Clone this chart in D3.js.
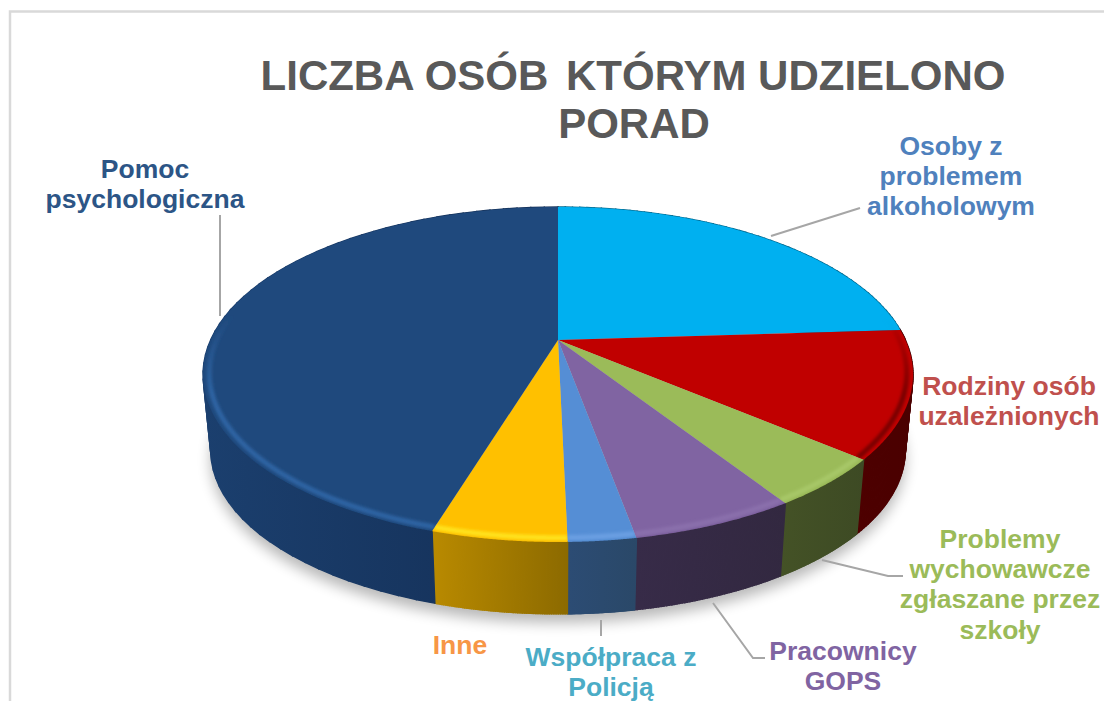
<!DOCTYPE html>
<html><head><meta charset="utf-8">
<script src="https://cdnjs.cloudflare.com/ajax/libs/d3/7.8.5/d3.min.js"></script>
<style>html,body{margin:0;padding:0;background:#fff;overflow:hidden}svg{display:block}text{font-family:"Liberation Sans",Arial,sans-serif;font-weight:bold;text-anchor:middle}</style>
</head><body><svg id="c" width="1104" height="701"></svg>
<script>
const categories=["Osoby z problemem alkoholowym","Rodziny osób uzależnionych","Problemy wychowawcze zgłaszane przez szkoły","Pracownicy GOPS","Współpraca z Policją","Inne","Pomoc psychologiczna"];
const values=[24.0,12.2,4.7,6.22,2.53,5.05,45.3];
const topColors=["#00b0f0","#c00000","#9bbb59","#8064a2","#558ed5","#ffc000","#1f497d"];
const rimColors=["#00a4e0","#7a0000","#a7c768","#8a6fac","#6a9fe2","#ffe21a","#2d64a3"];
const sideLeft=["#006a90","#4d0000","#445226","#372b48","#2c4c74","#b98a00","#1b3f6e"];
const sideRight=["#006a90","#4a0000","#3d4a24","#322840","#2a4868","#8c6a00","#142f56"];
const labelLines=[["Osoby z","problemem","alkoholowym"],["Rodziny osób","uzależnionych"],["Problemy","wychowawcze","zgłaszane przez","szkoły"],["Pracownicy","GOPS"],["Współpraca z","Policją"],["Inne"],["Pomoc","psychologiczna"]];
const labelColors=["#4f81bd","#c0504d","#9bbb59","#8064a2","#4bacc6","#f79646","#2c5586"];
const labelAnchors=[[951,155],[1009,395],[1000,548],[843,660],[611,666],[460,654],[145,178]];
const leaders=[[[771,236],[860,208]],[[822,560],[888,576],[903,576]],[[713,603],[753,658],[765,658]],[[601,620],[601,636]],[[220,215],[220,316]]];
const titleLine1=["LICZBA OSÓB ","KTÓRYM UDZIELONO"];
const titleLine2="PORAD";

const svg=d3.select("#c");
const defs=svg.append("defs");
const cx=558,y0=340,p=0.206,a=347.4,b=160.4,depth=76;
function proj(t,r=1){const x=r*Math.sin(t),y=-r*Math.cos(t),w=1-p*y;return [cx+a*x/w,y0+b*y/w];}
function low(t){const q=proj(t);return [cx+(q[0]-cx)*0.978,q[1]+depth+(375-q[1])*0.025];}
const arcs=d3.pie().sort(null).value(d=>d)(values);
const samples=(s,e,n=80)=>d3.range(n+1).map(i=>s+(e-s)*i/n);
const line=d3.line();
const slicePath=d=>line([[cx,y0],...samples(d.startAngle,d.endAngle).map(t=>proj(t))])+"Z";

const f1=defs.append("filter").attr("id","sh").attr("x","-20%").attr("y","-20%").attr("width","140%").attr("height","140%");
f1.append("feGaussianBlur").attr("stdDeviation",7);
const f2=defs.append("filter").attr("id","bl").attr("filterUnits","userSpaceOnUse").attr("x",0).attr("y",0).attr("width",1104).attr("height",701);
f2.append("feGaussianBlur").attr("stdDeviation",1.8);

// frame
svg.append("path").attr("d",line([[10,701],[10,11.5],[1104,11.5]])).attr("fill","none").attr("stroke","#d9d9d9").attr("stroke-width",2.5);

// drop shadow
const all=samples(0,2*Math.PI,200);
svg.append("path").attr("d",line(all.map(t=>{const q=low(t);return [q[0],q[1]+9];}))+"Z").attr("fill","#000").attr("opacity",0.28).attr("filter","url(#sh)");

// side walls, as small quads so the strip fills right up to the tangent points
arcs.forEach((d,i)=>{
  const ts=samples(d.startAngle,d.endAngle,60);
  const xs=ts.flatMap(t=>[proj(t)[0],low(t)[0]]);
  const g=defs.append("linearGradient").attr("id","w"+i).attr("gradientUnits","userSpaceOnUse").attr("x1",d3.min(xs)).attr("x2",d3.max(xs)+1).attr("y1",0).attr("y2",0);
  g.append("stop").attr("offset",0).attr("stop-color",sideLeft[i]);
  g.append("stop").attr("offset",1).attr("stop-color",sideRight[i]);
  d3.pairs(ts).forEach(([t0,t1])=>{
    svg.append("path").attr("d",line([proj(t0),proj(t1),low(t1),low(t0)])+"Z").attr("fill",`url(#w${i})`).attr("stroke",`url(#w${i})`).attr("stroke-width",1.4);
  });
});

// top face
arcs.forEach((d,i)=>{
  defs.append("clipPath").attr("id","c"+i).append("path").attr("d",slicePath(d));
  svg.append("path").attr("d",slicePath(d)).attr("fill",topColors[i]);
});

// bevel, fading out toward the back of the disc
const rS=80*Math.PI/180,rE=292*Math.PI/180;
arcs.forEach((d,i)=>{
  const s=Math.max(d.startAngle,rS),e=Math.min(d.endAngle,rE);
  if(e<=s)return;
  const fade=defs.append("linearGradient").attr("id","r"+i).attr("gradientUnits","userSpaceOnUse").attr("x1",0).attr("x2",0).attr("y1",315).attr("y2",395);
  fade.append("stop").attr("offset",0).attr("stop-color",rimColors[i]).attr("stop-opacity",0);
  fade.append("stop").attr("offset",1).attr("stop-color",rimColors[i]).attr("stop-opacity",1);
  const g=svg.append("g").attr("clip-path",`url(#c${i})`);
  g.append("path").attr("d",line(samples(s,e).map(t=>proj(t,0.983)))).attr("fill","none").attr("stroke",`url(#r${i})`).attr("stroke-width",5).attr("filter","url(#bl)");
  g.append("path").attr("d",line(samples(Math.max(s,1.75),Math.min(e,4.5)).map(t=>proj(t,1.012)))).attr("fill","none").attr("stroke",sideLeft[i]).attr("stroke-width",3).attr("filter","url(#bl)");
});

// leaders
leaders.forEach(l=>svg.append("path").attr("d",line(l)).attr("fill","none").attr("stroke","#a6a6a6").attr("stroke-width",2));

// labels
labelLines.forEach((ls,i)=>{
  ls.forEach((s,j)=>svg.append("text").attr("x",labelAnchors[i][0]).attr("y",labelAnchors[i][1]+j*30.2).attr("font-size",26.5).attr("fill",labelColors[i]).text(s));
});

// title
const t1=svg.append("text").attr("x",633).attr("y",90).attr("font-size",42).attr("fill","#595959").style("white-space","pre");
t1.append("tspan").text(titleLine1[0]);
t1.append("tspan").attr("dx",6).text(titleLine1[1]);
svg.append("text").attr("x",634).attr("y",138).attr("font-size",42).attr("fill","#595959").text(titleLine2);
</script></body></html>
